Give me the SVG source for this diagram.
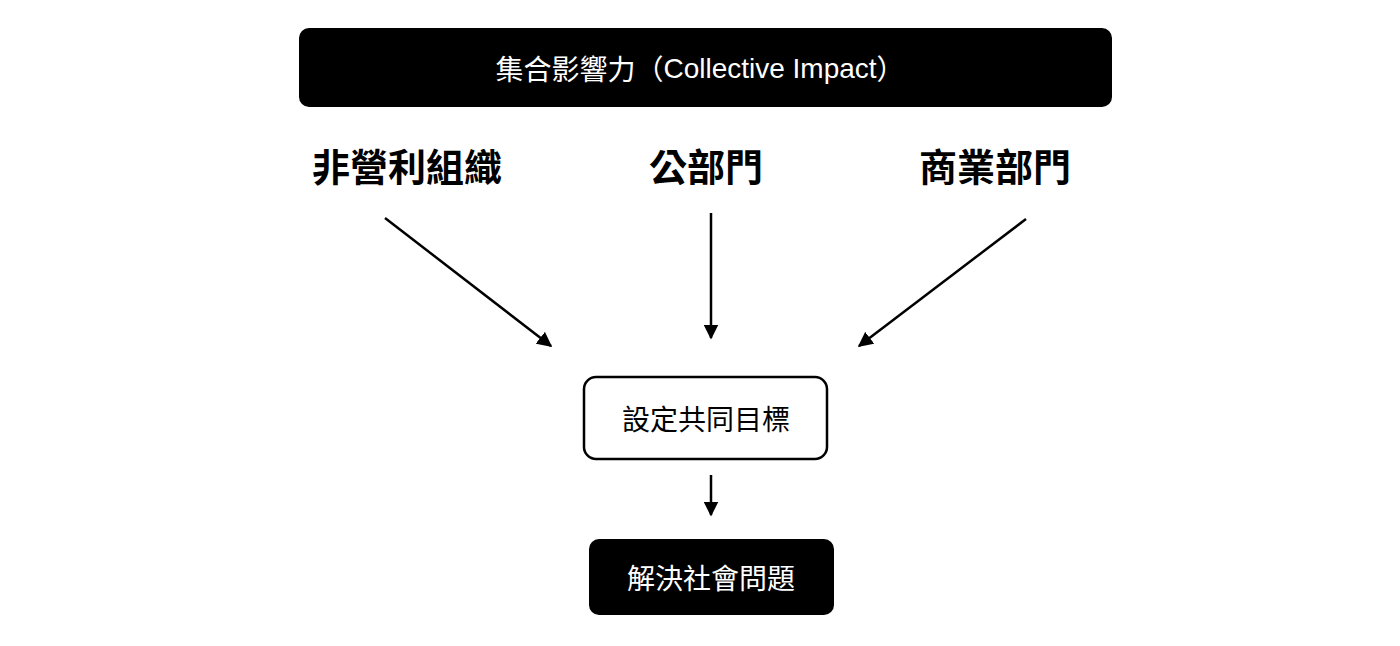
<svg xmlns="http://www.w3.org/2000/svg" width="1400" height="646" viewBox="0 0 1400 646">
<style>
text{font-family:"Noto Sans CJK TC","Noto Sans CJK SC",sans-serif;text-anchor:middle;dominant-baseline:central}
.w{fill:#fff;font-size:28px}
.l{font-size:38px;font-weight:bold;fill:#000}
.c{stroke:#000;stroke-width:2.5;fill:none;marker-end:url(#a)}
</style>
<defs><marker id="a" viewBox="0 0 10 10" refX="9" refY="5" markerWidth="6" markerHeight="6" orient="auto" markerUnits="strokeWidth"><path d="M0,0L10,5L0,10z" fill="#000"/></marker></defs>
<rect width="1400" height="646" fill="#fff"/>
<g id="top"><rect x="299" y="28" width="813" height="79" rx="10" fill="#000"/><text class="w" x="700" y="68">集合影響力（<tspan font-family="Liberation Sans,sans-serif">Collective Impact</tspan>）</text></g>
<g id="npo"><text class="l" x="407" y="164">非營利組織</text></g>
<g id="pub"><text class="l" x="706" y="164">公部門</text></g>
<g id="biz"><text class="l" x="995" y="164">商業部門</text></g>
<g id="goal"><rect x="584" y="377" width="243" height="82" rx="12" fill="#fff" stroke="#000" stroke-width="2.5"/><text x="706" y="418" style="font-size:28px">設定共同目標</text></g>
<g id="solve"><rect x="589" y="539" width="245" height="76" rx="10" fill="#000"/><text class="w" x="711" y="577">解決社會問題</text></g>
<g id="connectors">
<line class="c" x1="385" y1="218" x2="551" y2="346"/>
<line class="c" x1="711" y1="213" x2="711" y2="338"/>
<line class="c" x1="1026" y1="219" x2="859" y2="346"/>
<line class="c" x1="711" y1="475" x2="711" y2="515"/>
</g>
</svg>
